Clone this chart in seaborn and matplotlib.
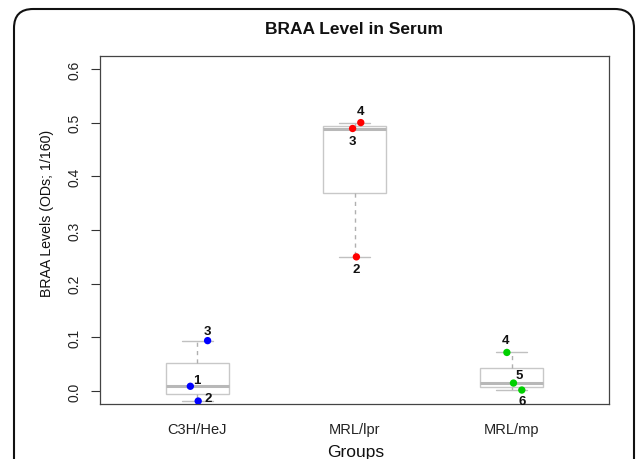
import numpy as np
import pandas as pd
import matplotlib
matplotlib.use("Agg")
import matplotlib.pyplot as plt
from matplotlib.patches import FancyBboxPatch
import seaborn as sns

# ---- data ----
groups = ["C3H/HeJ", "MRL/lpr", "MRL/mp"]
c3h_values = [0.009, -0.0185, 0.094]
c3h_ids = ["1", "2", "3"]
lpr_values = [0.25, 0.489, 0.50]
lpr_ids = ["2", "3", "4"]
mp_values = [0.072, 0.015, 0.002]
mp_ids = ["4", "5", "6"]
point_colors = ["#0000ff", "#ff0000", "#00d000"]
yticks = [0.0, 0.1, 0.2, 0.3, 0.4, 0.5, 0.6]

# jitter (x offset, in category units)
c3h_jitter = [-0.045, 0.005, 0.065]
lpr_jitter = [0.012, -0.012, 0.04]
mp_jitter = [-0.03, 0.012, 0.065]
# label offsets (points)
c3h_lab = [(5, 4.5), (7, 2.5), (0, 7)]
lpr_lab = [(0, -9), (0, -9), (0, 8)]
mp_lab = [(-1, 9), (4, 6), (0, -8)]

all_vals = [c3h_values, lpr_values, mp_values]
all_ids = [c3h_ids, lpr_ids, mp_ids]
all_jit = [c3h_jitter, lpr_jitter, mp_jitter]
all_lab = [c3h_lab, lpr_lab, mp_lab]

df = pd.DataFrame({
    "Group": [g for g, v in zip(groups, all_vals) for _ in v],
    "Value": [x for v in all_vals for x in v],
})

sns.set_theme(style="white")
plt.rcParams["font.family"] = ["Liberation Sans", "DejaVu Sans"]

W, H = 636, 460
fig = plt.figure(figsize=(W / 100, H / 100), dpi=100)
ax = fig.add_axes([100 / W, 1 - 405 / H, 509 / W, 348 / H])

sns.boxplot(data=df, x="Group", y="Value", order=groups, width=0.4,
            color="white", linecolor="#c8c8c8", linewidth=1.0,
            showfliers=False, ax=ax,
            whiskerprops=dict(linestyle=(0, (3, 3)), color="#b0b0b0"),
            medianprops=dict(color="#b8b8b8", linewidth=2.2),
            capprops=dict(color="#c0c0c0"))

for i, (vals, ids, jit, labs, col) in enumerate(zip(all_vals, all_ids, all_jit, all_lab, point_colors)):
    xs = [i + j for j in jit]
    ax.scatter(xs, vals, s=28, color=col, zorder=5, edgecolors="none")
    for x, y, t, (dx, dy) in zip(xs, vals, ids, labs):
        ax.annotate(t, (x, y), xytext=(dx, dy), textcoords="offset points",
                    ha="center", va="center", fontsize=9.5, fontweight="bold",
                    color="#111111", zorder=6)

ax.set_xlim(-0.62, 2.62)
ax.set_ylim(-0.024, 0.624)
ax.set_yticks(yticks)
ax.set_yticklabels([f"{t:.1f}" for t in yticks], rotation=90, va="center",
                   fontsize=10, color="#222222")
ax.tick_params(axis="y", direction="out", length=6.5, width=0.8, color="#333333",
               left=True, pad=7)
ax.tick_params(axis="x", length=0, pad=13, labelsize=10.5, labelcolor="#222222")
ax.set_xlabel("")
ax.set_ylabel("")
for s in ax.spines.values():
    s.set_color("#444444")
    s.set_linewidth(0.9)

fig.text(354 / W, 1 - 30 / H, "BRAA Level in Serum", ha="center", va="center",
         fontsize=12.5, fontweight="bold", color="#111111")
fig.text(356 / W, 1 - 453 / H, "Groups", ha="center", va="center",
         fontsize=12.5, color="#111111")
fig.text(47 / W, 1 - 213 / H, "BRAA Levels (ODs; 1/160)", ha="center", va="center",
         rotation=90, fontsize=10.2, color="#111111")

# outer rounded frame
frame = FancyBboxPatch((14 / W, -0.2), (634 - 14) / W, 1.2 - 10 / H,
                       boxstyle="round,pad=0,rounding_size=0.03",
                       transform=fig.transFigure, fill=False,
                       edgecolor="#111111", linewidth=1.5,
                       mutation_aspect=W / H)
fig.patches.append(frame)

fig.savefig("out.png", dpi=100)
